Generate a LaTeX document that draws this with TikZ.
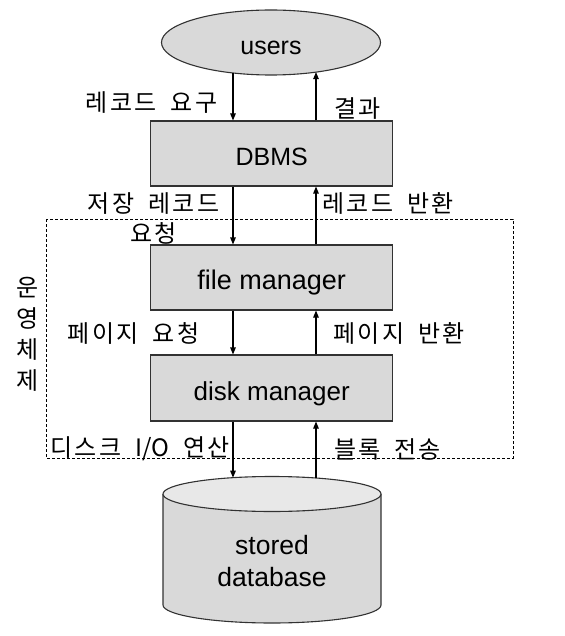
\documentclass[tikz,border=0pt]{standalone}
\usepackage{fontspec}
\setmainfont{Liberation Sans}
\newfontfamily\kr[LetterSpace=10]{Noto Sans CJK KR}
\newfontfamily\krn{Noto Sans CJK KR}
\newcommand\ksp{\hspace{6pt}}
\usetikzlibrary{shapes.geometric,arrows.meta,calc}
\definecolor{boxgray}{RGB}{217,217,217}
\definecolor{topgray}{RGB}{232,232,232}
\definecolor{edge}{RGB}{50,50,50}
\begin{document}
\begin{tikzpicture}[x=1pt,y=-1pt,
  boxstyle/.style={draw=edge,fill=boxgray,line width=1.1pt,minimum width=242pt,
    minimum height=65pt,inner sep=0pt,text height=24.5pt,text depth=0pt,
    font=\fontsize{26}{30}\selectfont},
  krlab/.style={inner sep=0pt,align=center,font=\kr\fontsize{24}{30}\selectfont},
  arr/.style={line width=1.1pt,-{Triangle[length=7pt,width=5.5pt]}}]
\useasboundingbox (0,0) rectangle (564,636);
% users
\node[ellipse,draw=edge,fill=boxgray,line width=1.1pt,minimum width=219pt,minimum height=65pt,
  inner sep=0pt,text height=25pt,text depth=0pt,font=\fontsize{25}{30}\selectfont] (users) at (271,42.5) {users};
% boxes
\node[boxstyle,font=\fontsize{25}{30}\selectfont] (dbms) at (271.7,153.5) {DBMS};
\node[boxstyle,font=\fontsize{27}{30}\selectfont,text height=23.6pt] (fm) at (271.7,277.5) {file manager};
\node[boxstyle,minimum height=66pt,text height=24pt] (dm) at (271.7,388) {disk manager};
% column x positions
\coordinate (xL) at (233,0);
\coordinate (xR) at (316,0);
% ellipse border points
\coordinate (u1) at ($(users.center)+(-38,30.5)$);
\coordinate (u2) at ($(users.center)+(45,29.6)$);
% dashed OS region
\draw[line width=0.8pt,dash pattern=on 3pt off 2pt] (46,219) rectangle (513,458);
% database cylinder
\fill[boxgray] (163,494) -- (163,605) arc[start angle=180,end angle=360,x radius=109pt,y radius=18pt] -- (381,494) -- cycle;
\draw[edge,line width=1.1pt] (163,494) -- (163,605) arc[start angle=180,end angle=360,x radius=109pt,y radius=18pt] -- (381,494);
\draw[edge,fill=topgray,line width=1.1pt] (272,494) ellipse[x radius=109pt,y radius=17.5pt];
\coordinate (db1) at (233,477.7);
\coordinate (db2) at (316,478);
\node[align=center,inner sep=0pt,font=\fontsize{26.5}{31.7}\selectfont] (dbt) at (272,561) {stored\\database};
% arrows
\draw[arr] (u1) -- (dbms.north -| xL);
\draw[arr] (dbms.north -| xR) -- (u2);
\draw[arr] (dbms.south -| xL) -- (fm.north -| xL);
\draw[arr] (fm.north -| xR) -- (dbms.south -| xR);
\draw[arr] (fm.south -| xL) -- (dm.north -| xL);
\draw[arr] (dm.north -| xR) -- (fm.south -| xR);
\draw[arr] (dm.south -| xL) -- (db1);
\draw[arr] (db2) -- (dm.south -| xR);
% labels
\node[krlab] (l1) at (151.5,103) {레코드 \ksp{}요구};
\node[krlab] (l2) at (357.5,108.5) {결과};
\node[krlab] (l3) at (153.5,218) {저장 \ksp{}레코드\\요청};
\node[krlab] (l4) at (388,203) {레코드 \ksp{}반환};
\node[krlab] (l5) at (133.5,333) {페이지 \ksp{}요청};
\node[krlab] (l6) at (399,333) {페이지 \ksp{}반환};
\node[krlab] (l7) at (140,449) {디스크 \ksp{}{\krn I/O} \ksp{}연산};
\node[krlab] (l8) at (387.5,449) {블록 \ksp{}전송};
\node[krlab,font=\kr\fontsize{24}{31}\selectfont] (os) at (28,334) {운\\영\\체\\제};
\end{tikzpicture}
\end{document}
